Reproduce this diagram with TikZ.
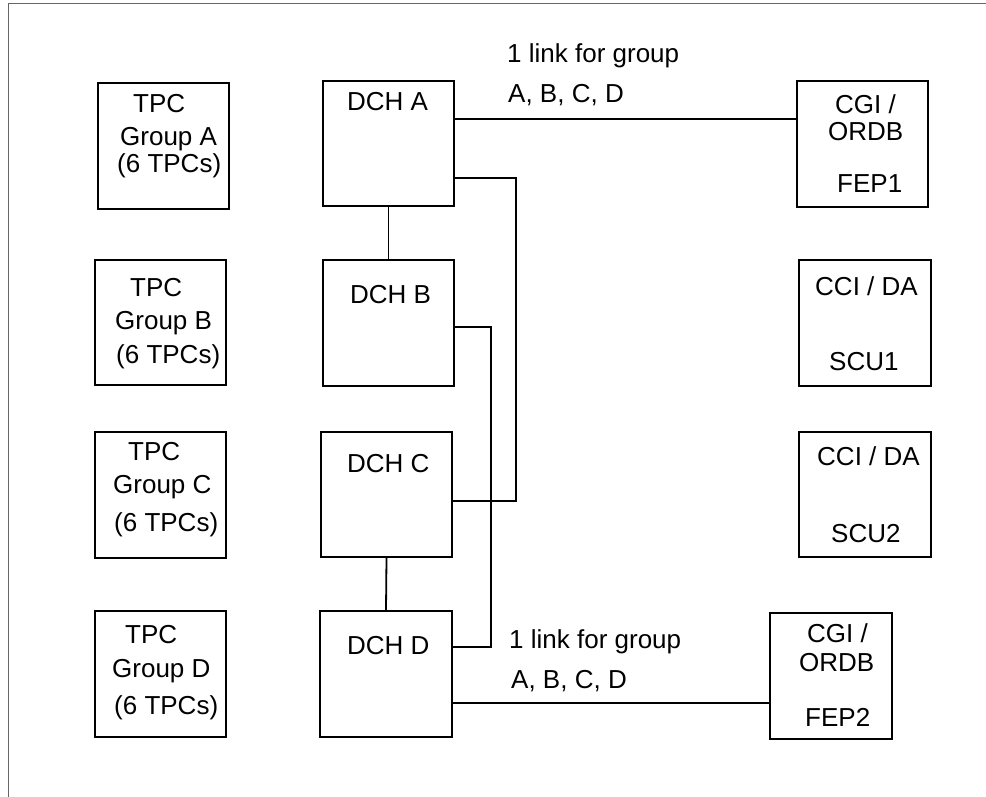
\documentclass[tikz,border=0pt]{standalone}
\usepackage{fontspec}
\setmainfont{Liberation Sans}
\begin{document}
\begin{tikzpicture}[x=1pt,y=-1pt,
  box/.style={draw=black,line width=2pt,rectangle,inner sep=0pt,minimum width=131pt,minimum height=126pt},
  txt/.style={anchor=base west,inner sep=0pt,font=\fontsize{26}{30}\selectfont},
  conn/.style={draw=black,line width=1.8pt},
  link/.style={draw=black,line width=2.6pt}]
\useasboundingbox (0,0) rectangle (986,797);
\draw[gray!80!black,line width=1pt] (8,797) -- (8,4) -- (986,4);
% boxes
\node[box] (tpcA) at (163.5,146) {};
\node[box,minimum height=125pt] (tpcB) at (160.5,322.5) {};
\node[box] (tpcC) at (160.5,495) {};
\node[box] (tpcD) at (160.5,674) {};
\node[box,minimum height=125pt] (dchA) at (388.5,143.5) {};
\node[box] (dchB) at (388.5,323) {};
\node[box,minimum height=125pt] (dchC) at (386.5,494.5) {};
\node[box,minimum width=132pt] (dchD) at (386,674) {};
\node[box] (fep1) at (862.5,144) {};
\node[box,minimum width=132pt] (scu1) at (865,323) {};
\node[box,minimum width=132pt,minimum height=125pt] (scu2) at (865,494.5) {};
\node[box,minimum width=122pt] (fep2) at (831,676) {};
% texts
\node[txt] (tA1) at (133,113) {TPC};
\node[txt] (tA2) at (120,146) {Group A};
\node[txt] (tA3) at (117,173) {(6 TPCs)};
\node[txt] (tB1) at (130,296) {TPC};
\node[txt] (tB2) at (115,329) {Group B};
\node[txt] (tB3) at (116,363) {(6 TPCs)};
\node[txt] (tC1) at (128,460) {TPC};
\node[txt] (tC2) at (113,493) {Group C};
\node[txt] (tC3) at (114,531) {(6 TPCs)};
\node[txt] (tD1) at (125,643) {TPC};
\node[txt] (tD2) at (112,677) {Group D};
\node[txt] (tD3) at (114,714) {(6 TPCs)};
\node[txt] (dA) at (347,111) {DCH A};
\node[txt] (dB) at (350,303) {DCH B};
\node[txt] (dC) at (347,472) {DCH C};
\node[txt] (dD) at (347,654) {DCH D};
\node[txt] (f1a) at (835,114) {CGI /};
\node[txt] (f1b) at (828,141) {ORDB};
\node[txt] (f1c) at (837,193) {FEP1};
\node[txt] (s1a) at (815,295) {CCI / DA};
\node[txt] (s1b) at (829,370) {SCU1};
\node[txt] (s2a) at (817,465) {CCI / DA};
\node[txt] (s2b) at (831,542) {SCU2};
\node[txt] (f2a) at (807,642) {CGI /};
\node[txt] (f2b) at (799,671) {ORDB};
\node[txt] (f2c) at (805,726) {FEP2};
\node[txt] (l1a) at (507,63) {1 link for group};
\node[txt] (l1b) at (508,103) {A, B, C, D};
\node[txt] (l2a) at (509,648) {1 link for group};
\node[txt] (l2b) at (511,688) {A, B, C, D};
% connectors
\draw[link] (dchA.east |- {0,119}) -- (fep1.west |- {0,119});
\draw[conn] (dchA.south) -- (dchB.north);
\draw[conn] (dchC.south) -- (dchD.north);
\draw[conn] (dchA.east |- {0,178}) -- ++(61,0) |- (dchC.east |- {0,501});
\draw[conn] (dchB.east |- {0,327}) -- ++(36,0) |- (dchD.east |- {0,647});
\draw[conn] (dchD.east |- {0,703}) -- (fep2.west |- {0,703});
\end{tikzpicture}
\end{document}
